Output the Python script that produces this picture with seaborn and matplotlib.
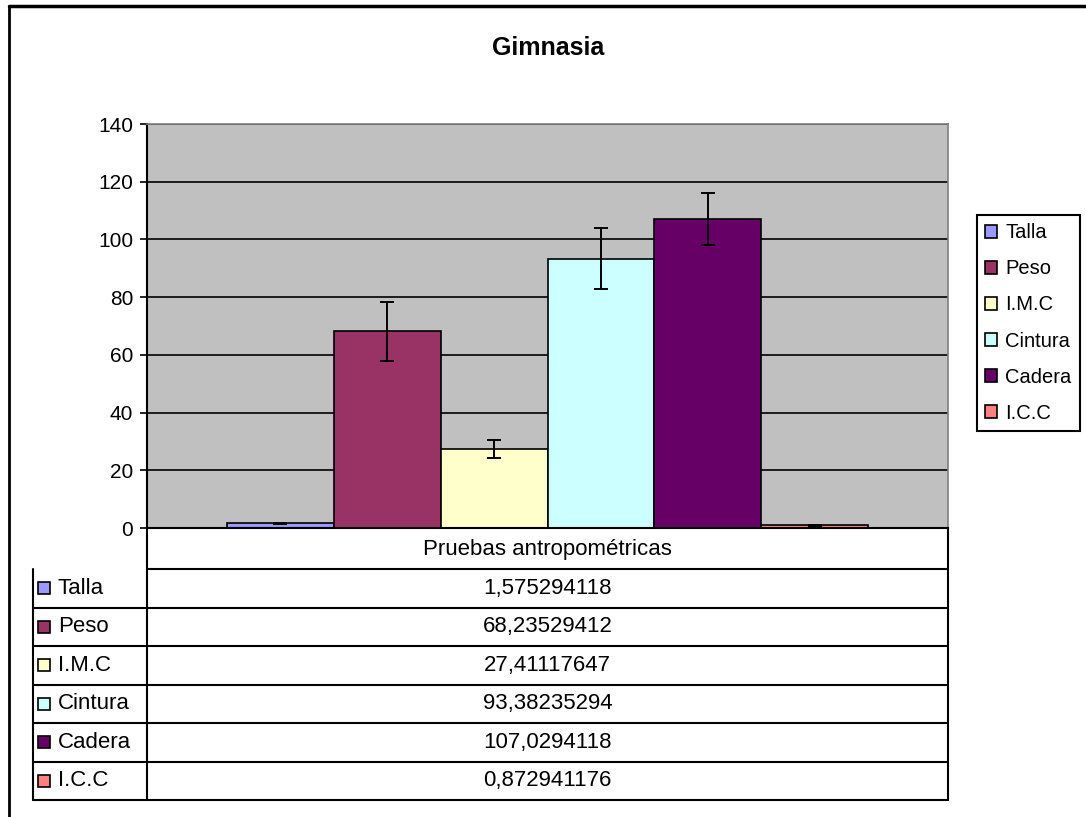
import matplotlib
matplotlib.use("Agg")
import matplotlib.pyplot as plt
from matplotlib.patches import Patch, Rectangle
import pandas as pd
import seaborn as sns

# data
series = ["Talla", "Peso", "I.M.C", "Cintura", "Cadera", "I.C.C"]
means = [1.575294118, 68.23529412, 27.41117647, 93.38235294, 107.0294118, 0.872941176]
errors = [0.07, 10.2, 3.1, 10.7, 9.1, 0.05]
category = "Pruebas antropométricas"
yticks = [0, 20, 40, 60, 80, 100, 120, 140]
colors = ["#9999FF", "#993366", "#FFFFCC", "#CCFFFF", "#660066", "#FF8080"]

df = pd.DataFrame({"Prueba": [category] * len(series), "Serie": series, "Media": means})

sns.set_theme(style="white")
plt.rcParams["font.family"] = ["Liberation Sans", "DejaVu Sans"]
plt.rcParams["text.color"] = "black"

W, H = 1086, 817
fig = plt.figure(figsize=(W / 100, H / 100), dpi=100)
fig.patch.set_facecolor("white")


def box(left, top, right, bottom):
    return [left / W, 1 - bottom / H, (right - left) / W, (bottom - top) / H]


ax = fig.add_axes(box(147, 124, 948, 528))
sns.barplot(
    data=df,
    x="Prueba",
    y="Media",
    hue="Serie",
    hue_order=series,
    palette=colors,
    saturation=1,
    edgecolor="black",
    linewidth=1.2,
    width=0.8,
    errorbar=None,
    legend=False,
    ax=ax,
)
for container, err in zip(ax.containers, errors):
    bar = container[0]
    ax.errorbar(
        bar.get_x() + bar.get_width() / 2,
        bar.get_height(),
        yerr=err,
        fmt="none",
        ecolor="black",
        elinewidth=1.4,
        capsize=5,
        capthick=1.4,
        zorder=5,
    )

ax.set_facecolor("#C0C0C0")
ax.set_xlim(-0.5, 0.5)
ax.set_ylim(0, 140)
ax.set_yticks(yticks)
ax.set_xticks([])
ax.set_xlabel("")
ax.set_ylabel("")
ax.yaxis.grid(True, color="black", linewidth=1.2)
ax.set_axisbelow(True)
ax.tick_params(axis="y", left=True, length=5, width=1.2, color="black",
               labelsize=15, pad=5, labelcolor="black")
for side in ["left", "bottom"]:
    ax.spines[side].set_color("black")
    ax.spines[side].set_linewidth(1.5)
for side in ["top", "right"]:
    ax.spines[side].set_color("#808080")
    ax.spines[side].set_linewidth(1.2)

handles = [Patch(facecolor=c, edgecolor="black", linewidth=1.2) for c in colors]
leg = fig.legend(
    handles,
    series,
    loc="center left",
    bbox_to_anchor=(977 / W, 1 - 323 / H),
    frameon=True,
    fancybox=False,
    edgecolor="black",
    framealpha=1,
    fontsize=14.5,
    handlelength=0.6,
    handleheight=0.6,
    handletextpad=0.4,
    labelspacing=0.85,
    borderpad=0.4,
    borderaxespad=0,
)
leg.get_frame().set_linewidth(1.5)

fig.text(548 / W, 1 - 48 / H, "Gimnasia", ha="center", va="center",
         fontsize=18, fontweight="bold", color="black")

# data table under the chart, drawn in pixel coordinates
tax = fig.add_axes([0, 0, 1, 1])
tax.set_xlim(0, W)
tax.set_ylim(H, 0)
tax.axis("off")
tax.patch.set_alpha(0)

lk = dict(color="black", linewidth=1.5)
tax.plot([9, W], [6, 6], color="black", linewidth=2.5)
tax.plot([9, 9], [6, H], color="black", linewidth=2)

rows_top = 569
row_h = (800 - rows_top) / len(series)
tax.plot([146.5, 146.5], [528, 800], **lk)
tax.plot([948, 948], [528, 800], **lk)
tax.plot([33, 33], [rows_top, 800], **lk)
tax.plot([146.5, 948], [rows_top, rows_top], **lk)
tax.text(547.5, 549, category, ha="center", va="center", fontsize=16)
for i, (name, val, c) in enumerate(zip(series, means, colors)):
    y0 = rows_top + i * row_h
    y1 = y0 + row_h
    tax.plot([33, 948], [y1, y1], **lk)
    ym = (y0 + y1) / 2
    tax.add_patch(Rectangle((38, ym - 6), 12, 12, facecolor=c,
                            edgecolor="black", linewidth=1.2))
    tax.text(58, ym, name, ha="left", va="center", fontsize=16)
    tax.text(547.5, ym, str(val).replace(".", ","), ha="center", va="center",
             fontsize=16)

fig.savefig("out.png", dpi=100)
